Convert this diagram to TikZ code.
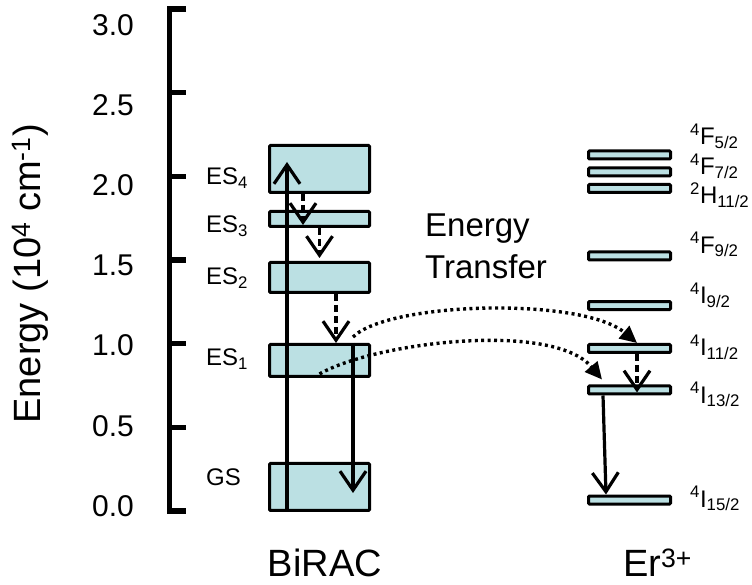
\documentclass[tikz,border=0pt]{standalone}
\usepackage{fontspec}
\setmainfont{Liberation Sans}
\usetikzlibrary{arrows.meta}
\definecolor{levelfill}{RGB}{187,224,227}

\tikzset{
  statebox/.style={draw, line width=3pt, fill=levelfill, rounded corners=1pt, inner sep=0pt},
  biracbox/.style={statebox, minimum width=100pt},
  erbox/.style={statebox, minimum width=82pt, minimum height=8pt},
  statelabel/.style={font=\fontsize{24}{28}\selectfont, anchor=base west, inner sep=0pt},
  decay/.style={line width=3.2pt, -{Straight Barb[length=19pt,width=26pt]}},
  nonrad/.style={decay, dash pattern=on 7pt off 4pt},
  transfer/.style={line width=3.4pt, dash pattern=on 3pt off 3.4pt, -{Triangle[length=17pt,width=16pt]}}
}

\begin{document}
\begin{tikzpicture}[x=1pt, y=167.3pt]
  \useasboundingbox (0,-0.4423) rectangle (752,3.0544);

  % Energy axis
  \draw[line width=5.5pt] (186,3) -- (169.5,3) -- (169.5,0) -- (186,0);
  \foreach \e in {0.5,1.0,1.5,2.0,2.5}
    \draw[line width=5.5pt] (169.5,\e) -- (186,\e);
  \foreach \e in {0.0,0.5,1.0,1.5,2.0,2.5,3.0}
    \node[font=\fontsize{30}{36}\selectfont, anchor=east, inner sep=0pt] at (134,{0.03+0.9588*\e}) {\e};
  \node[rotate=90, anchor=base, inner sep=0pt, font=\fontsize{38}{44}\selectfont] (ylabel) at (40,1.417)
    {Energy (10\textsuperscript{4} cm\textsuperscript{-1})};

  % BiRAC levels
  \node[biracbox, minimum height=47pt] (ES4) at (319.5,2.0442) {};
  \node[biracbox, minimum height=15pt] (ES3) at (319.5,1.7454) {};
  \node[biracbox, minimum height=30pt] (ES2) at (319.5,1.3957) {};
  \node[biracbox, minimum height=32pt] (ES1) at (319.5,0.8996) {};
  \node[biracbox, minimum height=47pt] (GS) at (319.5,0.1435) {};
  \node[statelabel] (ES4lab) at (206,1.9486) {ES\textsubscript{4}};
  \node[statelabel] (ES3lab) at (206,1.6617) {ES\textsubscript{3}};
  \node[statelabel] (ES2lab) at (206,1.3509) {ES\textsubscript{2}};
  \node[statelabel] (ES1lab) at (206,0.8667) {ES\textsubscript{1}};
  \node[statelabel] (GSlab) at (206,0.1554) {GS};

  % Er3+ levels
  \node[erbox] (F52) at (629.5,2.1279) {};
  \node[erbox] (F72) at (629.5,2.0263) {};
  \node[erbox] (H112) at (629.5,1.9277) {};
  \node[erbox] (F92) at (629.5,1.5242) {};
  \node[erbox] (I92) at (629.5,1.2283) {};
  \node[erbox] (I112) at (629.5,0.9713) {};
  \node[erbox] (I132) at (629.5,0.7233) {};
  \node[erbox] (I152) at (629.5,0.0657) {};
  \node[statelabel] (F52lab) at (690,2.1877) {\textsuperscript{4}F\textsubscript{5/2}};
  \node[statelabel] (F72lab) at (690,2.0084) {\textsuperscript{4}F\textsubscript{7/2}};
  \node[statelabel] (H112lab) at (690,1.8350) {\textsuperscript{2}H\textsubscript{11/2}};
  \node[statelabel] (F92lab) at (690,1.5421) {\textsuperscript{4}F\textsubscript{9/2}};
  \node[statelabel] (I92lab) at (690,1.2373) {\textsuperscript{4}I\textsubscript{9/2}};
  \node[statelabel] (I112lab) at (690,0.9265) {\textsuperscript{4}I\textsubscript{11/2}};
  \node[statelabel] (I132lab) at (690,0.6455) {\textsuperscript{4}I\textsubscript{13/2}};
  \node[statelabel] (I152lab) at (690,0.0239) {\textsuperscript{4}I\textsubscript{15/2}};

  % excitation, relaxation and emission
  \draw[decay] ([xshift=-32.5pt]GS.south) -- ([xshift=-32.5pt,yshift=-18pt]ES4.north);
  \draw[nonrad] ([xshift=-16.5pt]ES4.south) -- ([xshift=-16.5pt,yshift=3pt]ES3.south);
  \draw[nonrad] (ES3.south) -- ([yshift=3pt]ES2.north);
  \draw[nonrad] ([xshift=16.5pt]ES2.south) -- ([xshift=16.5pt]ES1.north);
  \draw[decay] ([xshift=33.5pt]ES1.north) -- ([xshift=33.5pt,yshift=-31pt]GS.north);
  \draw[nonrad] ([xshift=7.5pt]I112.south) -- ([xshift=7.5pt,yshift=3pt]I132.south);
  \draw[decay] ([xshift=-26.5pt]I132.south) -- ([xshift=-23.5pt]I152.north);

  % energy transfer BiRAC -> Er3+
  \draw[transfer] ([xshift=33.5pt,yshift=6pt]ES1.north)
    .. controls +(45:50pt) and +(140:72pt) .. ([xshift=7.5pt]I112.north);
  \draw[transfer] ([yshift=4pt]ES1.south)
    .. controls +(30:63pt) and +(130:77pt) .. ([xshift=-27.5pt,yshift=5pt]I132.north);
  \node[font=\fontsize{33}{42}\selectfont, align=left, anchor=north west, inner sep=0pt] (etlab) at (425,1.775)
    {Energy\\Transfer};

  % species
  \node[font=\fontsize{38}{44}\selectfont, anchor=base, inner sep=0pt] (biraclab) at (325,-0.3945) {BiRAC};
  \node[font=\fontsize{38}{44}\selectfont, anchor=base west, inner sep=0pt] (erlab) at (623,-0.3945) {Er\textsuperscript{3+}};
\end{tikzpicture}
\end{document}
